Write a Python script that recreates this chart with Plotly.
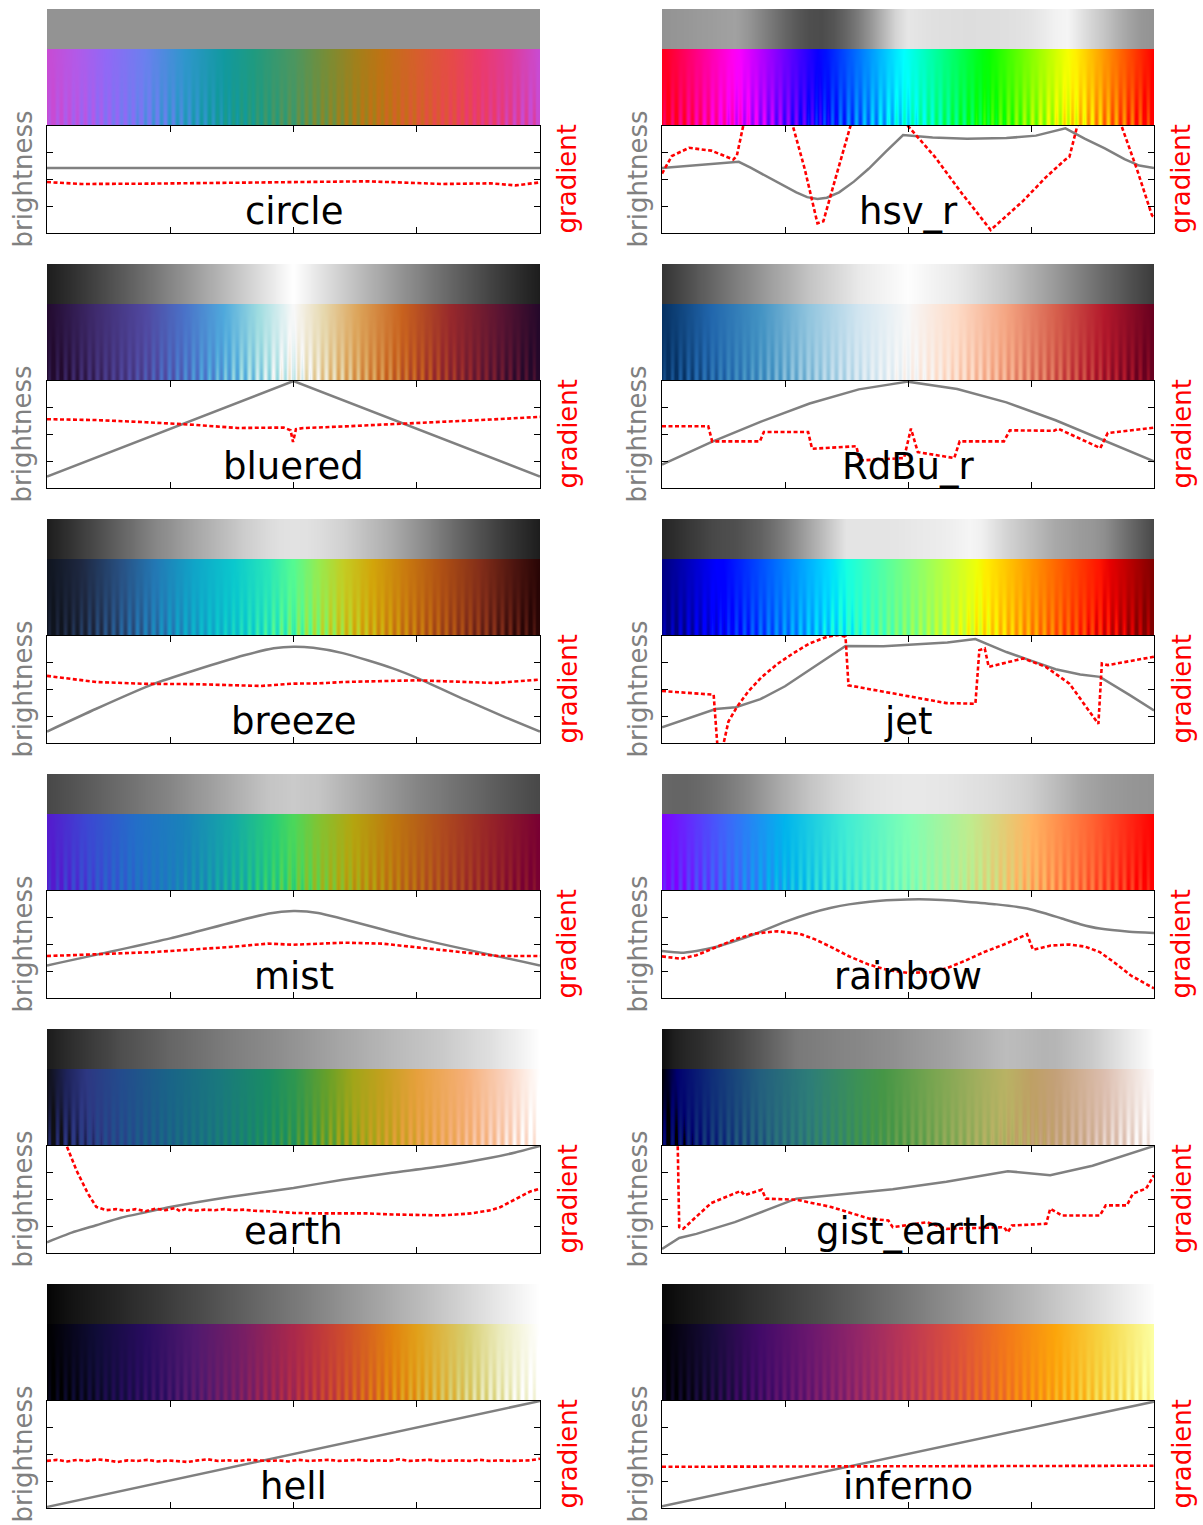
import numpy as np
import plotly.graph_objects as go

# ---------------- data ----------------
names = ["circle", "hsv_r", "bluered", "RdBu_r", "breeze", "jet",
         "mist", "rainbow", "earth", "gist_earth", "hell", "inferno"]
smooth_names = ["breeze", "mist", "rainbow", "earth"]

# colormap stops / colours
circle_stops = [0, 0.06, 0.12, 0.2, 0.28, 0.36, 0.42, 0.5, 0.57, 0.63, 0.68, 0.75, 0.82, 0.88, 0.94, 1.0]
circle_colors = ["#c84bd3", "#b25ae8", "#9168f5", "#6a80ee", "#2f96cc", "#11999f", "#1f9a80", "#4b9660",
                 "#7a8c34", "#a37f1a", "#bf7214", "#d65e2c", "#e64a48", "#ea3a6c", "#de3c98", "#c84bd3"]
hsv_r_stops = [0, 0.142857, 0.15873, 0.31746, 0.333333, 0.492063, 0.650794, 0.666667, 0.825397, 0.84127, 1.0]
hsv_r_colors = ["#ff0018", "#ff00ef", "#f700ff", "#0800ff", "#0010ff", "#00ffff", "#00ff10", "#08ff00",
                "#f7ff00", "#ffef00", "#ff0000"]
bluered_stops = [0, 0.1, 0.2, 0.28, 0.36, 0.43, 0.5, 0.56, 0.63, 0.72, 0.82, 0.92, 1.0]
bluered_colors = ["#220a2e", "#3f2b6e", "#5048a0", "#4a72c8", "#4fa9dc", "#9fdce0", "#f8f8f8", "#e6d8ae",
                  "#dca45a", "#c8621e", "#96282c", "#5a1432", "#24082a"]
RdBu_r_stops = [0, 0.1, 0.2, 0.3, 0.4, 0.5, 0.6, 0.7, 0.8, 0.9, 1.0]
RdBu_r_colors = ["#053061", "#2166ac", "#4393c3", "#92c5de", "#d1e5f0", "#f7f7f7", "#fddbc7", "#f4a582",
                 "#d6604d", "#b2182b", "#67001f"]
breeze_stops = [0, 0.07, 0.15, 0.22, 0.3, 0.38, 0.45, 0.5, 0.55, 0.6, 0.66, 0.73, 0.8, 0.88, 0.95, 1.0]
breeze_colors = ["#0f141e", "#1e2841", "#285082", "#2378b4", "#0fa5c8", "#0ac8cd", "#28e6b9", "#55fa91",
                 "#96eb50", "#c3cd23", "#d2a50a", "#c8780f", "#af5014", "#822d19", "#4b140f", "#280505"]
jet_stops = [0, 0.11, 0.125, 0.34, 0.35, 0.375, 0.64, 0.65, 0.66, 0.89, 0.91, 1.0]
jet_colors = ["#00007f", "#0000ff", "#0000ff", "#00dbff", "#00e5f7", "#15ffe2", "#efff08", "#f7f500",
              "#ffec00", "#ff1300", "#e80000", "#7f0000"]
mist_stops = [0, 0.08, 0.18, 0.28, 0.38, 0.46, 0.5, 0.55, 0.62, 0.7, 0.8, 0.9, 1.0]
mist_colors = ["#5519cd", "#3c46d2", "#236ec8", "#1982b9", "#14aaa5", "#28cd78", "#4bd75a", "#82c332",
               "#b4a50f", "#be780f", "#af4b1e", "#962328", "#780032"]
rainbow_stops = [0, 0.125, 0.25, 0.375, 0.5, 0.625, 0.75, 0.875, 1.0]
rainbow_colors = ["#7f00ff", "#4062fa", "#00b4ec", "#40ecd4", "#7fffb4", "#bfec8e", "#ffb462", "#ff6232",
                  "#ff0000"]
earth_stops = [0, 0.04, 0.08, 0.15, 0.25, 0.35, 0.45, 0.5, 0.57, 0.62, 0.68, 0.75, 0.85, 0.93, 1.0]
earth_colors = ["#0f0f14", "#1e235a", "#2d3782", "#234b8c", "#196487", "#19787d", "#198c64", "#2d9650",
                "#69a028", "#a0a519", "#c3a01e", "#e6a03c", "#f5af78", "#fad2be", "#ffffff"]
gist_earth_stops = [0, 0.03, 0.1, 0.2, 0.3, 0.4, 0.45, 0.55, 0.65, 0.7, 0.75, 0.8, 0.9, 1.0]
gist_earth_colors = ["#000000", "#00006e", "#0f2d78", "#235f7d", "#2d7d78", "#3c9155", "#469646",
                     "#78a550", "#a5af5f", "#b9b264", "#bea064", "#c3a078", "#dcbeaf", "#fdfafa"]
hell_stops = [0, 0.1, 0.2, 0.3, 0.4, 0.5, 0.55, 0.6, 0.65, 0.7, 0.75, 0.85, 0.92, 1.0]
hell_colors = ["#000000", "#0f0c37", "#280c5f", "#50196e", "#781e64", "#aa284b", "#be373c", "#cd4b2d",
               "#d7641e", "#e1820f", "#e1a019", "#d7cd6e", "#ebebbe", "#ffffff"]
inferno_stops = [0, 0.1, 0.2, 0.3, 0.4, 0.5, 0.6, 0.7, 0.8, 0.9, 1.0]
inferno_colors = ["#000004", "#160b39", "#420a68", "#6a176e", "#932667", "#bc3754", "#dd513a", "#f37819",
                  "#fca50a", "#f6d746", "#fcffa4"]

# brightness curves (fraction of axis height, x in [0,1])
circle_bx = [0, 1]
circle_by = [0.608, 0.608]
hsv_r_bx = [0, 0.156, 0.18, 0.2, 0.227, 0.25, 0.273, 0.295, 0.316, 0.335, 0.36, 0.39, 0.42, 0.455, 0.49,
            0.55, 0.62, 0.7, 0.76, 0.82, 0.86, 0.9, 0.94, 0.97, 1.0]
hsv_r_by = [0.608, 0.665, 0.61, 0.56, 0.49, 0.43, 0.38, 0.335, 0.317, 0.33, 0.38, 0.48, 0.6, 0.76, 0.915,
            0.893, 0.882, 0.887, 0.91, 0.978, 0.88, 0.79, 0.69, 0.63, 0.608]
bluered_bx = [0, 0.5, 1.0]
bluered_by = [0.107, 1.0, 0.107]
RdBu_r_bx = [0, 0.1, 0.2, 0.3, 0.4, 0.5, 0.6, 0.7, 0.8, 0.9, 1.0]
RdBu_r_by = [0.219, 0.429, 0.618, 0.79, 0.922, 0.994, 0.925, 0.8, 0.633, 0.442, 0.248]
breeze_bx = [0, 0.1, 0.215, 0.3, 0.4, 0.46, 0.5, 0.54, 0.6, 0.7, 0.755, 0.85, 0.93, 1.0]
breeze_by = [0.107, 0.32, 0.55, 0.68, 0.82, 0.885, 0.9, 0.89, 0.84, 0.7, 0.6, 0.4, 0.24, 0.107]
jet_bx = [0, 0.109, 0.15, 0.2, 0.25, 0.3, 0.35, 0.373, 0.45, 0.52, 0.58, 0.637, 0.7, 0.75, 0.8, 0.85,
          0.89, 0.95, 1.0]
jet_by = [0.147, 0.317, 0.335, 0.41, 0.53, 0.68, 0.83, 0.906, 0.905, 0.922, 0.94, 0.972, 0.85, 0.77, 0.69,
          0.64, 0.618, 0.45, 0.304]
mist_bx = [0, 0.25, 0.45, 0.5, 0.55, 0.75, 1.0]
mist_by = [0.304, 0.557, 0.79, 0.812, 0.795, 0.557, 0.304]
rainbow_bx = [0, 0.039, 0.07, 0.109, 0.15, 0.1875, 0.25, 0.3, 0.344, 0.38, 0.422, 0.47, 0.523, 0.57, 0.617,
              0.68, 0.742, 0.78, 0.8125, 0.85, 0.89, 0.95, 1.0]
rainbow_by = [0.439, 0.423, 0.44, 0.476, 0.535, 0.596, 0.712, 0.79, 0.843, 0.875, 0.9, 0.915, 0.922, 0.915,
              0.9, 0.875, 0.837, 0.79, 0.743, 0.69, 0.649, 0.62, 0.608]
earth_bx = [0, 0.05, 0.1, 0.15, 0.2, 0.25, 0.37, 0.5, 0.6, 0.7, 0.8, 0.9, 0.95, 1.0]
earth_by = [0.1, 0.19, 0.26, 0.33, 0.38, 0.43, 0.524, 0.608, 0.685, 0.75, 0.81, 0.89, 0.94, 1.0]
gist_earth_bx = [0, 0.035, 0.07, 0.148, 0.211, 0.273, 0.469, 0.578, 0.703, 0.789, 0.875, 1.0]
gist_earth_by = [0.038, 0.141, 0.179, 0.288, 0.398, 0.508, 0.596, 0.665, 0.765, 0.727, 0.815, 1.0]
hell_bx = [0, 1]
hell_by = [0.01, 1.0]
inferno_bx = [0, 1]
inferno_by = [0.016, 0.994]

# gradient curves (fraction of axis height; >1 or <0 run off the axes)
circle_gx = [0, 0.07, 0.2, 0.4, 0.55, 0.65, 0.75, 0.8, 0.9, 0.95, 1.0]
circle_gy = [0.476, 0.458, 0.461, 0.470, 0.473, 0.483, 0.467, 0.458, 0.464, 0.445, 0.473]
hsv_r_gx = [0, 0.02, 0.055, 0.1, 0.145, 0.152, 0.165, 0.215, 0.266, 0.29, 0.316, 0.328, 0.355, 0.383, 0.44,
            0.5, 0.555, 0.61, 0.668, 0.734, 0.78, 0.82, 0.828, 0.844, 0.89, 0.934, 0.965, 0.996, 1.0]
hsv_r_gy = [0.555, 0.72, 0.796, 0.77, 0.687, 0.72, 1.0, 1.6, 1.0, 0.6, 0.09, 0.11, 0.55, 1.0, 1.6, 1.0, 0.71,
            0.367, 0.028, 0.30, 0.52, 0.687, 0.71, 1.0, 1.4, 1.0, 0.6, 0.163, 0.15]
bluered_gx = [0, 0.1, 0.2, 0.3, 0.386, 0.48, 0.494, 0.499, 0.505, 0.52, 0.6, 0.7, 0.8, 0.9, 1.0]
bluered_gy = [0.643, 0.635, 0.615, 0.59, 0.561, 0.565, 0.54, 0.43, 0.55, 0.56, 0.575, 0.595, 0.618, 0.64, 0.665]
RdBu_r_gx = [0.0, 0.094, 0.102, 0.199, 0.207, 0.297, 0.305, 0.395, 0.402, 0.492, 0.506, 0.52, 0.594, 0.605,
             0.695, 0.707, 0.797, 0.805, 0.891, 0.906, 1.0]
RdBu_r_gy = [0.577, 0.577, 0.436, 0.436, 0.524, 0.524, 0.367, 0.39, 0.257, 0.28, 0.555, 0.335, 0.28, 0.436,
             0.436, 0.539, 0.535, 0.555, 0.373, 0.514, 0.564]
breeze_gx = [0, 0.1, 0.2, 0.3, 0.433, 0.5, 0.55, 0.6, 0.75, 0.85, 0.907, 1.0]
breeze_gy = [0.627, 0.57, 0.553, 0.55, 0.533, 0.555, 0.557, 0.57, 0.586, 0.57, 0.561, 0.592]
jet_gx = [0, 0.105, 0.113, 0.123, 0.135, 0.152, 0.175, 0.203, 0.235, 0.266, 0.3, 0.336, 0.359, 0.373, 0.379,
          0.45, 0.578, 0.637, 0.645, 0.656, 0.664, 0.734, 0.78, 0.828, 0.887, 0.894, 0.906, 1.0]
jet_gy = [0.486, 0.451, -0.05, -0.05, 0.2, 0.335, 0.48, 0.618, 0.74, 0.837, 0.93, 0.994, 1.01, 0.994, 0.539,
          0.48, 0.373, 0.367, 0.868, 0.884, 0.712, 0.79, 0.712, 0.555, 0.179, 0.743, 0.728, 0.806]
mist_gx = [0, 0.215, 0.37, 0.448, 0.5, 0.604, 0.68, 0.76, 0.837, 0.915, 1.0]
mist_gy = [0.392, 0.429, 0.476, 0.508, 0.498, 0.517, 0.508, 0.47, 0.429, 0.392, 0.392]
rainbow_gx = [0, 0.039, 0.07, 0.109, 0.15, 0.1875, 0.234, 0.28, 0.31, 0.344, 0.38, 0.42, 0.46, 0.5, 0.547,
              0.58, 0.617, 0.655, 0.695, 0.742, 0.754, 0.79, 0.828, 0.86, 0.89, 0.92, 0.953, 1.0]
rainbow_gy = [0.389, 0.367, 0.4, 0.476, 0.55, 0.602, 0.624, 0.6, 0.55, 0.476, 0.39, 0.313, 0.26, 0.235, 0.24,
              0.28, 0.35, 0.43, 0.5, 0.596, 0.451, 0.49, 0.5, 0.48, 0.429, 0.33, 0.21, 0.09]
earth_gx = [0.0, 0.04, 0.06, 0.083, 0.1, 0.12, 0.14, 0.16, 0.18, 0.2, 0.22, 0.24, 0.26, 0.27, 0.28, 0.3, 0.32,
            0.34, 0.36, 0.38, 0.4, 0.42, 0.45, 0.48, 0.5, 0.55, 0.6, 0.65, 0.7, 0.75, 0.8, 0.83, 0.86, 0.88,
            0.9, 0.92, 0.94, 0.96, 0.98, 1.0]
earth_gy = [2.5, 1.0, 0.77, 0.555, 0.43, 0.40, 0.41, 0.395, 0.41, 0.39, 0.415, 0.40, 0.42, 0.39, 0.41, 0.395,
            0.405, 0.40, 0.41, 0.40, 0.405, 0.395, 0.39, 0.38, 0.375, 0.37, 0.368, 0.37, 0.36, 0.355, 0.352,
            0.36, 0.37, 0.385, 0.40, 0.43, 0.48, 0.53, 0.575, 0.60]
gist_earth_gx = [0, 0.028, 0.035, 0.043, 0.1, 0.16, 0.168, 0.203, 0.211, 0.273, 0.344, 0.422, 0.46, 0.469,
                 0.539, 0.578, 0.695, 0.703, 0.711, 0.781, 0.789, 0.8125, 0.89, 0.902, 0.945, 0.957, 0.984, 1.0]
gist_earth_gy = [2.5, 2.0, 0.241, 0.226, 0.467, 0.58, 0.54, 0.592, 0.508, 0.498, 0.43, 0.32, 0.304, 0.241,
                 0.288, 0.226, 0.241, 0.194, 0.257, 0.273, 0.414, 0.351, 0.351, 0.445, 0.445, 0.555, 0.602,
                 0.727]
hell_gy = [0.44, 0.45, 0.435, 0.45, 0.44, 0.455, 0.445, 0.43, 0.445, 0.44, 0.45, 0.435, 0.445, 0.44, 0.43,
           0.445, 0.455, 0.44, 0.445, 0.44, 0.45, 0.445, 0.44, 0.445, 0.435, 0.45, 0.44, 0.445, 0.45, 0.44,
           0.445, 0.45, 0.44, 0.445, 0.44, 0.455, 0.44, 0.445, 0.45, 0.44, 0.445, 0.445, 0.44, 0.45, 0.44,
           0.445, 0.44, 0.44, 0.445, 0.46]
hell_gx = list(np.linspace(0, 1, len(hell_gy)))
inferno_gx = [0, 0.5, 1.0]
inferno_gy = [0.385, 0.39, 0.395]

D = globals()

# ---------------- helpers ----------------
W, H = 1203, 1525


def hex_rgb(h):
    h = h.lstrip("#")
    return "rgb(%d,%d,%d)" % (int(h[0:2], 16), int(h[2:4], 16), int(h[4:6], 16))


def lstar_gray(L):
    fy = (L + 16) / 116
    Y = fy ** 3 if fy > 6 / 29 else L / 903.3
    v = 12.92 * Y if Y <= 0.0031308 else 1.055 * Y ** (1 / 2.4) - 0.055
    g = int(round(max(0, min(1, v)) * 255))
    return "rgb(%d,%d,%d)" % (g, g, g)


NCOL, NROW = 492, 40
ramp = (np.arange(NCOL) + 0.5) / NCOL
amp_rows = ((NROW - np.arange(NROW) - 0.5) / NROW) ** 2
ripple = 0.05 * np.sin(2 * np.pi * np.arange(NCOL) / 8.0)
z_color = np.clip(ramp[None, :] + amp_rows[:, None] * ripple[None, :], 0, 1).round(4)
x_edges = np.linspace(0, 1, NCOL + 1)

fig = go.Figure()
layout = {}
FONT = "DejaVu Sans"
annotations = []

for i, name in enumerate(names):
    row, col = divmod(i, 2)
    left, right = (47, 540) if col == 0 else (662, 1154)
    top = 9 + 255 * row
    xd = [left / W, right / W]
    bar_dom = [1 - (top + 117) / H, 1 - top / H]
    plot_dom = [1 - (top + 224) / H, 1 - (top + 117) / H]

    xa, xb = 2 * i + 1, 2 * i + 2
    ya, yb, yc = 3 * i + 1, 3 * i + 2, 3 * i + 3
    xs = lambda n: "x" if n == 1 else "x%d" % n
    ys = lambda n: "y" if n == 1 else "y%d" % n
    xk = lambda n: "xaxis" if n == 1 else "xaxis%d" % n
    yk = lambda n: "yaxis" if n == 1 else "yaxis%d" % n

    stops = D[name + "_stops"]
    cols = D[name + "_colors"]
    bx, by = D[name + "_bx"], D[name + "_by"]
    gx, gy = D[name + "_gx"], D[name + "_gy"]

    cscale = [[s, hex_rgb(c)] for s, c in zip(stops, cols)]
    gpos = np.linspace(0, 1, 41)
    gL = np.interp(gpos, bx, by) * 100
    gscale = [[float(p), lstar_gray(L)] for p, L in zip(gpos, gL)]

    # colour bar with ripple test pattern
    fig.add_trace(go.Heatmap(z=z_color, x=x_edges, y=np.linspace(0, 77, NROW + 1),
                             colorscale=cscale, zmin=0, zmax=1, showscale=False,
                             hoverinfo="skip", xaxis=xs(xa), yaxis=ys(ya)))
    # grayscale bar
    fig.add_trace(go.Heatmap(z=[ramp.round(4)], x=x_edges, y=[77, 117],
                             colorscale=gscale, zmin=0, zmax=1, showscale=False,
                             hoverinfo="skip", xaxis=xs(xa), yaxis=ys(ya)))
    # brightness
    bline = dict(color="#808080", width=2.5)
    if name in smooth_names:
        bline.update(shape="spline", smoothing=0.6)
    fig.add_trace(go.Scatter(x=bx, y=[v * 100 for v in by], mode="lines", line=bline,
                             xaxis=xs(xb), yaxis=ys(yb), hoverinfo="skip"))
    # gradient
    fig.add_trace(go.Scatter(x=gx, y=gy, mode="lines",
                             line=dict(color="#ff0000", width=2.6, dash="4px,2.5px"),
                             xaxis=xs(xb), yaxis=ys(yc), hoverinfo="skip"))

    hidden = dict(visible=False, showgrid=False, zeroline=False, fixedrange=True)
    layout[xk(xa)] = dict(domain=xd, range=[0, 1], anchor=ys(ya), **hidden)
    layout[yk(ya)] = dict(domain=bar_dom, range=[0, 117], anchor=xs(xa), **hidden)
    frame = dict(showline=True, linecolor="black", linewidth=1.3, mirror="ticks",
                 ticks="inside", ticklen=6, tickwidth=1.3, tickcolor="black",
                 showticklabels=False, showgrid=False, zeroline=False, fixedrange=True)
    layout[xk(xb)] = dict(domain=xd, range=[0, 1], tickvals=[0.25, 0.5, 0.75],
                          anchor=ys(yb), **frame)
    layout[yk(yb)] = dict(domain=plot_dom, range=[0, 100], tickvals=[25, 50, 75],
                          anchor=xs(xb), **frame)
    layout[yk(yc)] = dict(domain=plot_dom, range=[0, 1], overlaying=ys(yb), side="right",
                          anchor=xs(xb), visible=False, showgrid=False, zeroline=False)

    pc = (top + 117 + top + 224) / 2
    annotations.append(dict(text=name, x=(left + right) / 2 / W, y=1 - (top + 226) / H,
                            xref="paper", yref="paper", xanchor="center", yanchor="bottom",
                            showarrow=False, font=dict(family=FONT, size=37, color="black")))
    annotations.append(dict(text="brightness", x=(left - 25) / W, y=1 - pc / H,
                            xref="paper", yref="paper", xanchor="center", yanchor="middle",
                            textangle=-90, showarrow=False,
                            font=dict(family=FONT, size=26, color="#808080")))
    annotations.append(dict(text="gradient", x=(right + 27) / W, y=1 - (pc - 1) / H,
                            xref="paper", yref="paper", xanchor="center", yanchor="middle",
                            textangle=-90, showarrow=False,
                            font=dict(family=FONT, size=26, color="#ff0000")))

fig.update_layout(**layout)
fig.update_layout(width=W, height=H, autosize=False, margin=dict(l=0, r=0, t=0, b=0),
                  paper_bgcolor="white", plot_bgcolor="white", showlegend=False,
                  font=dict(family=FONT), annotations=annotations)

fig.write_html("out.html", post_script="document.body.style.margin='0';",
               config={"displayModeBar": False})
